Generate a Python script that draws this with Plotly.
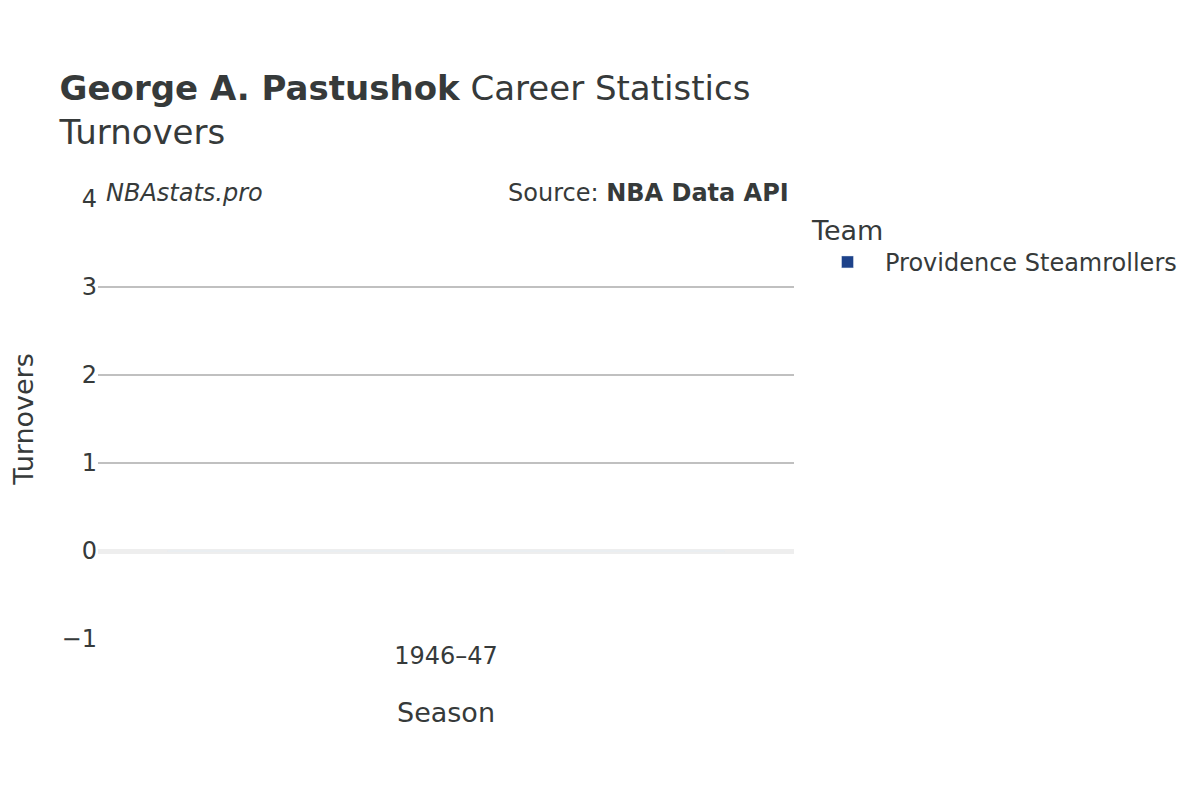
"""Turnovers by season for one player"""
import plotly.graph_objects as go

player = "George A. Pastushok"
stat_name = "Turnovers"
teams = ["Providence Steamrollers"]
team_colors = ["#1d428a"]
seasons = ["1946–47"]
turnovers = [0]


def main():
    fig = go.Figure()

    for _team, _color in zip(teams, team_colors):
        fig.add_trace(go.Bar(
            x=seasons,
            y=turnovers,
            name=_team,
            marker=dict(color=_color),
        ))

    # page body adds 8px, so margins are set a bit short
    fig.update_layout(
        width=1200,
        height=800,
        font=dict(family="DejaVu Sans", color="#363a3a", size=24),
        plot_bgcolor="white",
        paper_bgcolor="white",
        margin=dict(l=90, r=414, t=191, b=169),
        title=dict(
            text=f"<b>{player}</b> Career Statistics<br>{stat_name}",
            x=0.043, xanchor="left",
            y=0.885, yanchor="top",
            font=dict(size=34),
        ),
        legend=dict(
            title=dict(text="Team", font=dict(size=27)),
            font=dict(size=24),
            itemwidth=65,
            x=1.023, y=0.987, yanchor="top",
        ),
        showlegend=True,
        annotations=[
            dict(text="<i>NBAstats.pro</i>", xref="paper", yref="paper",
                 x=0.008, y=0.978, xanchor="left", yanchor="bottom",
                 showarrow=False, font=dict(size=24)),
            dict(text="Source: <b>NBA Data API</b>", xref="paper", yref="paper",
                 x=0.995, y=0.978, xanchor="right", yanchor="bottom",
                 showarrow=False, font=dict(size=24)),
        ],
    )
    fig.update_xaxes(
        title=dict(text="Season", font=dict(size=27), standoff=34),
        tickfont=dict(size=24),
        showgrid=False,
        automargin=False,
    )
    fig.update_yaxes(
        title=dict(text=stat_name, font=dict(size=27), standoff=33),
        tickfont=dict(size=24),
        range=[-1, 4],
        dtick=1,
        gridcolor="#c0c0c0",
        gridwidth=2,
        zeroline=True,
        zerolinecolor="#eeeeee",
        zerolinewidth=5,
        automargin=False,
    )

    fig.write_html("out.html")


if __name__ == "__main__":
    main()
